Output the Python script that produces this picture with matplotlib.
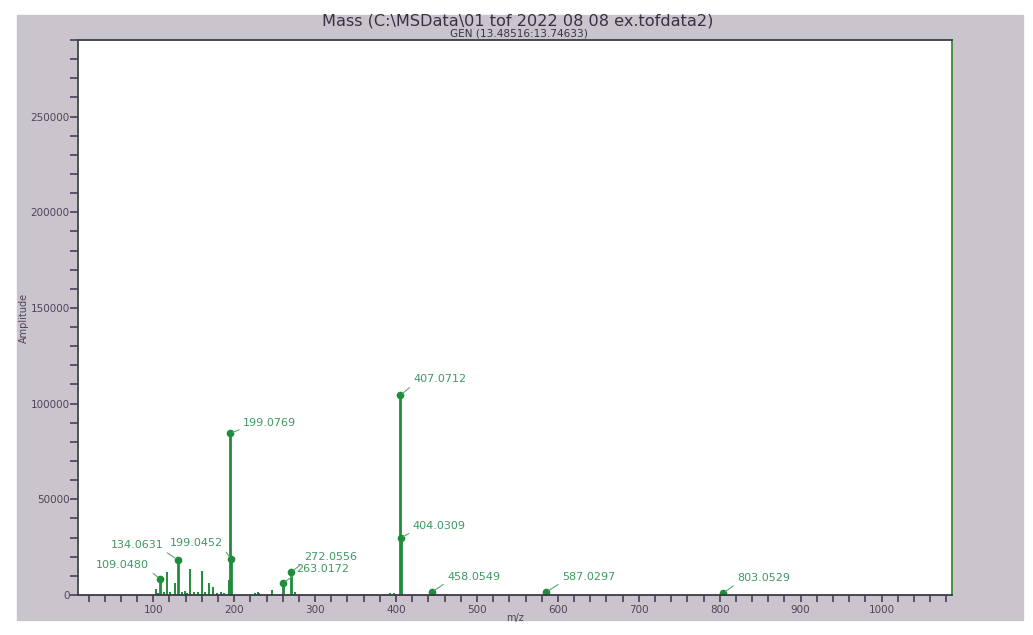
import numpy as np
import matplotlib
matplotlib.use("Agg")
import matplotlib.pyplot as plt
from matplotlib.patches import Rectangle
from matplotlib.ticker import MultipleLocator

# labelled peaks (position, label text as printed)
peak_mz = [108.6, 130.9, 196.3, 195.1, 260.5, 270.4, 406.0, 405.2, 445.0, 585.4, 804.3]
peak_amp = [8300, 18200, 18700, 84500, 6300, 12000, 29700, 104300, 1700, 1500, 1000]
peak_text = ["109.0480", "134.0631", "199.0452", "199.0769", "263.0172", "272.0556",
             "404.0309", "407.0712", "458.0549", "587.0297", "803.0529"]
# label offsets in pixels (dx, dy)
label_dx = [-11, -15, -8, 13, 13, 13, 12, 13, 15, 16, 14]
label_dy = [9, 10, 11, 5, 9, 10, 7, 11, 10, 10, 10]

# small unlabelled peaks
minor_mz = [103.7, 106.0, 113.0, 116.9, 121.0, 127.2, 136.0, 139.0, 142.0, 144.8, 150.0,
            155.0, 160.1, 164.0, 169.2, 173.7, 179.0, 184.0, 187.0, 193.0, 226.0, 229.0,
            231.0, 247.0, 275.7, 360.0, 372.0, 385.0, 392.7, 398.0, 452.0, 462.0]
minor_amp = [3100, 1200, 1500, 12000, 1800, 6400, 1400, 2000, 1300, 13600, 1500,
             1700, 12700, 1500, 6400, 4000, 1200, 1500, 1200, 7800, 1200, 1400,
             1200, 2500, 1500, 500, 600, 700, 800, 1200, 600, 500]

green = "#1f8c3b"
label_green = "#3d9a62"
text_gray = "#4d4458"

fig = plt.figure(figsize=(10.33, 6.35), dpi=100)
fig.patch.set_facecolor("white")
fig.patches.append(Rectangle((17 / 1033, 1 - 620 / 635), 1006 / 1033, 605 / 635,
                             transform=fig.transFigure, color="#cac5cd", zorder=-10))

ax = fig.add_axes([78 / 1033, 1 - 595 / 635, 874 / 1033, 555 / 635])
ax.set_facecolor("white")

ax.vlines(minor_mz, 0, minor_amp, color=green, lw=1.4)
ax.vlines(peak_mz, 0, peak_amp, color=green, lw=2)
ax.plot(peak_mz, peak_amp, "o", color=green, ms=4.5, mec=green)

for x, y, t, dx, dy in zip(peak_mz, peak_amp, peak_text, label_dx, label_dy):
    ha = "left" if dx > 0 else "right"
    rel = (0, 0) if dx > 0 else (1, 0)
    ax.annotate(t, (x, y), xytext=(dx, dy), textcoords="offset pixels",
                ha=ha, va="bottom", fontsize=8, color=label_green,
                arrowprops=dict(arrowstyle="-", color="#5aaa78", lw=0.8,
                                relpos=rel, shrinkA=1, shrinkB=2))

ax.set_xlim(7, 1087)
ax.set_ylim(0, 290000)
ax.set_xticks(np.arange(100, 1001, 100))
ax.xaxis.set_minor_locator(MultipleLocator(20))
ax.set_yticks(np.arange(0, 250001, 50000))
ax.yaxis.set_minor_locator(MultipleLocator(10000))
ax.tick_params(axis="both", which="both", direction="out", colors="#4a3d5a",
               labelcolor=text_gray, labelsize=7.5, width=1.2)
ax.tick_params(axis="x", which="both", length=5, pad=2)
ax.tick_params(axis="y", which="both", length=6, pad=0)

ax.spines["left"].set_color("#3a4a48")
ax.spines["bottom"].set_color("#3d3a45")
ax.spines["top"].set_color("#3d3d45")
ax.spines["right"].set_color("#3a8a3a")
for s in ax.spines.values():
    s.set_linewidth(1.3)

ax.set_xlabel("m/z", fontsize=7, color=text_gray, labelpad=-1)
ax.set_ylabel("Amplitude", fontsize=7, color=text_gray, labelpad=1)

fig.text(518 / 1033, 1 - 21 / 635, r"Mass (C:\MSData\01 tof 2022 08 08 ex.tofdata2)",
         ha="center", va="center", fontsize=11.6, color="#3a3045")
fig.text(519 / 1033, 1 - 33.5 / 635, "GEN (13.48516:13.74633)",
         ha="center", va="center", fontsize=7.6, color="#3a3045")

fig.savefig("out.png", dpi=100, facecolor=fig.get_facecolor())
